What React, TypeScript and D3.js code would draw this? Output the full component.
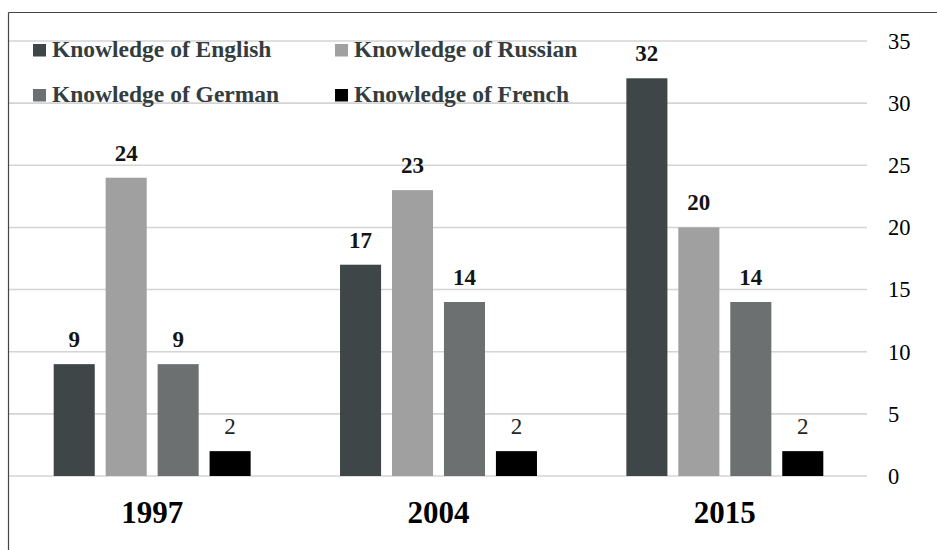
import * as d3 from "d3";

const years = ["1997", "2004", "2015"];
const seriesNames = [
  "Knowledge of English",
  "Knowledge of Russian",
  "Knowledge of German",
  "Knowledge of French",
];
const english = [9, 17, 32];
const russian = [24, 23, 20];
const german = [9, 14, 14];
const french = [2, 2, 2];
const yTicks = [0, 5, 10, 15, 20, 25, 30, 35];

const seriesValues = [english, russian, german, french];
const colors = ["#3e4647", "#a0a0a0", "#6d7070", "#000000"];
const FONT = "'Liberation Serif', 'Times New Roman', serif";

const App = () => {
  const width = 937;
  const height = 550;

  const x0 = d3.scaleBand().domain(years).range([9, 868]);
  const x1 = d3
    .scaleBand()
    .domain(seriesNames)
    .range([0, x0.bandwidth()])
    .paddingInner(0.21)
    .paddingOuter(0.86);
  const y = d3.scaleLinear().domain([0, 35]).range([476, 41]);

  // legend is 2 columns x 2 rows
  const legendCols = [33, 335];
  const legendRows = [56.5, 101.5];

  return (
    <svg
      width={width}
      height={height}
      style={{ position: "absolute", left: 0, top: 0, background: "#fff" }}
    >
      {/* gridlines */}
      {yTicks.map((t) => (
        <line
          key={t}
          x1={9}
          x2={867}
          y1={y(t)}
          y2={y(t)}
          stroke="#d4d4d4"
          strokeWidth={1.6}
        />
      ))}

      {/* right axis labels */}
      {yTicks.map((t) => (
        <text
          key={"t" + t}
          x={888}
          y={y(t)}
          dy="0.35em"
          fontFamily={FONT}
          fontSize={22.5}
          fill="#000"
        >
          {t}
        </text>
      ))}

      {/* bars */}
      {years.map((yr, i) => (
        <g key={yr} transform={`translate(${x0(yr)},0)`}>
          {seriesNames.map((s, j) => {
            const v = seriesValues[j][i];
            return (
              <rect
                key={s}
                x={x1(s)}
                y={y(v)}
                width={x1.bandwidth()}
                height={y(0) - y(v)}
                fill={colors[j]}
              />
            );
          })}
          {seriesNames.map((s, j) => {
            const v = seriesValues[j][i];
            const small = v < 5;
            return (
              <text
                key={"l" + s}
                x={(x1(s) ?? 0) + x1.bandwidth() / 2}
                y={y(v) - 17}
                textAnchor="middle"
                fontFamily={FONT}
                fontSize={23}
                fontWeight={small ? "normal" : "bold"}
                fill={small ? "#1e2626" : "#141414"}
              >
                {v}
              </text>
            );
          })}
          <text
            x={x0.bandwidth() / 2}
            y={523}
            textAnchor="middle"
            fontFamily={FONT}
            fontSize={31}
            fontWeight="bold"
            fill="#000"
          >
            {yr}
          </text>
        </g>
      ))}

      {/* legend */}
      {seriesNames.map((s, j) => {
        const cx = legendCols[j % 2];
        const by = legendRows[Math.floor(j / 2)];
        return (
          <g key={"lg" + s}>
            <rect x={cx} y={by - 12.5} width={13} height={12.5} fill={colors[j]} />
            <text
              x={cx + 19}
              y={by}
              fontFamily={FONT}
              fontSize={23.5}
              fontWeight="bold"
              fill="#343d3e"
            >
              {s}
            </text>
          </g>
        );
      })}

      {/* frame (left and top edges) */}
      <line x1={8.5} x2={8.5} y1={12.5} y2={height} stroke="#444" strokeWidth={1.2} />
      <line x1={8.5} x2={width} y1={12.5} y2={12.5} stroke="#444" strokeWidth={1.2} />
    </svg>
  );
};

export default App;
